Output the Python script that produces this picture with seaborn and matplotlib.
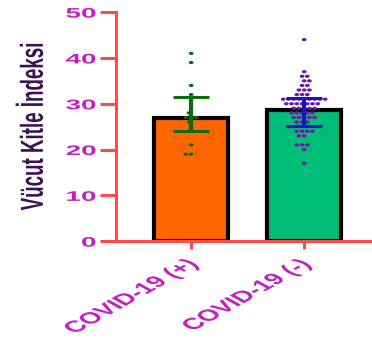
import matplotlib
matplotlib.use("Agg")
import matplotlib.pyplot as plt
import matplotlib.patheffects as pe
from matplotlib.markers import MarkerStyle
from matplotlib.transforms import Affine2D
import pandas as pd
import seaborn as sns

# values
groups = ["COVID-19 (+)", "COVID-19 (-)"]
bar_means = [26.8, 28.7]
err_low = [24.1, 25.1]
err_high = [31.5, 31.2]
pos_values = [41, 39, 34, 32, 28, 27, 27, 27, 26, 25, 21, 19, 19]
neg_values = [44, 37, 36, 36, 35, 35, 34, 34, 33, 33, 33, 32, 32, 32,
              31, 31, 31, 31, 31, 31, 31, 31, 31,
              30, 30, 30, 30, 30, 30, 30,
              29, 29, 29, 29, 29, 28, 28, 28, 28, 28,
              27, 27, 27, 27, 27, 26, 26, 26,
              25, 25, 25, 25, 25, 25, 25, 24, 24, 24, 24,
              23, 23, 21, 21, 21, 20, 17]
y_ticks = [0, 10, 20, 30, 40, 50]

bar_colors = ["#FF6600", "#00BD78"]
point_colors = ["#0B6B0B", "#6E1AA0"]
err_colors = ["#0B6B0B", "#1414C8"]
axis_red = "#FF4A4A"
label_magenta = "#C41EC4"
ylabel_color = "#3C1053"


class Stretch(pe.AbstractPathEffect):
    """scale the drawn text path in display space around a point of its bbox"""
    def __init__(self, sx=1.0, sy=1.0, fx=0.5, fy=0.5):
        super().__init__()
        self.sx, self.sy, self.fx, self.fy = sx, sy, fx, fy

    def draw_path(self, renderer, gc, tpath, affine, rgbFace=None):
        bb = tpath.transformed(affine).get_extents()
        cx = bb.x0 + self.fx * bb.width
        cy = bb.y0 + self.fy * bb.height
        st = Affine2D().translate(-cx, -cy).scale(self.sx, self.sy).translate(cx, cy)
        renderer.draw_path(gc, tpath, affine + st, rgbFace)


sns.set_theme(style="white")
plt.rcParams['font.family'] = ['Liberation Sans', 'DejaVu Sans']

fig = plt.figure(figsize=(3.72, 3.47), dpi=100)
ax = fig.add_axes([0.312, 0.305, 0.688, 0.66])

bars = pd.DataFrame({"group": groups, "bmi": bar_means})
sns.barplot(data=bars, x="group", y="bmi", hue="group", palette=bar_colors,
            saturation=1, width=0.66, edgecolor="black", linewidth=3,
            errorbar=None, legend=False, ax=ax)

pts = pd.DataFrame({
    "group": [groups[0]] * len(pos_values) + [groups[1]] * len(neg_values),
    "bmi": pos_values + neg_values,
})
dot = MarkerStyle("o", transform=Affine2D().scale(0.95, 0.65))
sns.swarmplot(data=pts, x="group", y="bmi", hue="group", palette=point_colors,
              size=3.6, marker=dot, linewidth=0, legend=False, ax=ax, zorder=3)

for i in range(len(groups)):
    ax.errorbar([i], [bar_means[i]],
                yerr=[[bar_means[i] - err_low[i]], [err_high[i] - bar_means[i]]],
                color=err_colors[i], elinewidth=3, capsize=13, capthick=2.2,
                zorder=5)

ax.set_xlim(-0.664, 1.60)
ax.set_ylim(0, 50)
ax.set_yticks(y_ticks)
ax.set_xlabel("")

sns.despine(ax=ax)
for side in ["left", "bottom"]:
    ax.spines[side].set_color(axis_red)
    ax.spines[side].set_linewidth(2.2)

ax.tick_params(axis="y", left=True, length=11.5, width=2.2, color=axis_red,
               labelcolor=label_magenta, labelsize=10, pad=3)
ax.tick_params(axis="x", bottom=True, length=6, width=2.2, color=axis_red,
               labelcolor=label_magenta, labelsize=11.5, pad=5)

for t in ax.get_yticklabels():
    t.set_fontweight("bold")
    t.set_path_effects([Stretch(sx=2.0, fx=1.0, fy=0.5)])
for t in ax.get_xticklabels():
    t.set_fontweight("bold")
    t.set_rotation(45)
    t.set_ha("right")
    t.set_va("top")
    t.set_rotation_mode("anchor")
    t.set_path_effects([Stretch(sx=1.8, fx=1.0, fy=1.0)])

ax.set_ylabel("Vücut Kitle İndeksi", fontsize=13.5, fontweight="bold",
              color=ylabel_color)
ax.yaxis.set_label_coords(-0.27, 0.5)
ax.yaxis.label.set_path_effects([Stretch(sx=1.7, fx=1.0, fy=0.5)])

fig.savefig("out.png", dpi=100)
